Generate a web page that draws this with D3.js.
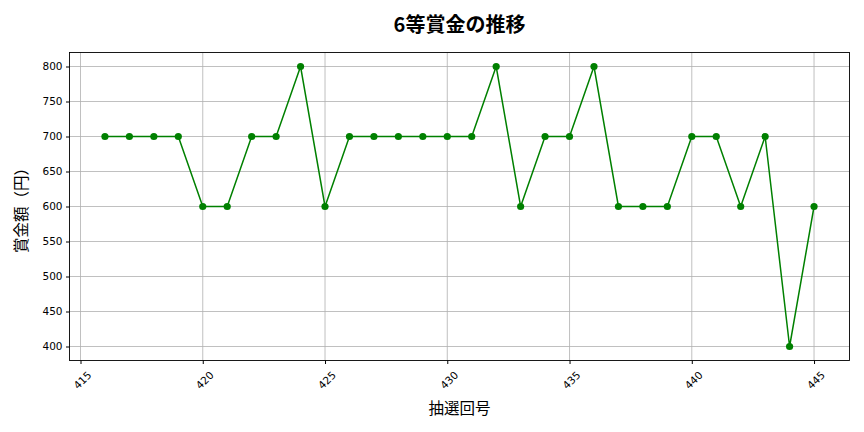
<html>
<head>
<meta charset="utf-8">
<script src="https://d3js.org/d3.v7.min.js"></script>
<style>
body { margin: 0; background: #fff; }
svg { background: #fff; }
.grid line { stroke: #b0b0b0; stroke-width: 0.8; }
.axis text { font-family: "DejaVu Sans", sans-serif; font-size: 10.5px; fill: #000; }
.axis path, .axis line { stroke: #000; }
</style>
</head>
<body>
<script>
var draws = [416, 417, 418, 419, 420, 421, 422, 423, 424, 425, 426, 427, 428, 429, 430,
             431, 432, 433, 434, 435, 436, 437, 438, 439, 440, 441, 442, 443, 444, 445];
var prizes = [700, 700, 700, 700, 600, 600, 700, 700, 800, 600, 700, 700, 700, 700, 700,
              700, 800, 600, 700, 700, 800, 600, 600, 600, 700, 700, 600, 700, 400, 600];
var xTicks = [415, 420, 425, 430, 435, 440, 445];
var yTicks = [400, 450, 500, 550, 600, 650, 700, 750, 800];

var width = 864, height = 432;
var pLeft = 69.5, pRight = 849.5, pTop = 52.5, pBottom = 360.5;

var svg = d3.select('body').append('svg')
  .attr('width', width)
  .attr('height', height);

var xPad = (d3.max(draws) - d3.min(draws)) * 0.05;
var x = d3.scaleLinear()
  .domain([d3.min(draws) - xPad, d3.max(draws) + xPad])
  .range([pLeft, pRight]);
var yPad = (d3.max(prizes) - d3.min(prizes)) * 0.05;
var y = d3.scaleLinear()
  .domain([d3.min(prizes) - yPad, d3.max(prizes) + yPad])
  .range([pBottom, pTop]);

// grid
var grid = svg.append('g').attr('class', 'grid');
grid.selectAll('.vx').data(xTicks).enter().append('line')
  .attr('x1', function(d){ return x(d); }).attr('x2', function(d){ return x(d); })
  .attr('y1', pTop).attr('y2', pBottom);
grid.selectAll('.hy').data(yTicks).enter().append('line')
  .attr('y1', function(d){ return y(d); }).attr('y2', function(d){ return y(d); })
  .attr('x1', pLeft).attr('x2', pRight);

// axes
var xAxis = svg.append('g').attr('class', 'axis')
  .attr('transform', 'translate(0,' + pBottom + ')')
  .call(d3.axisBottom(x).tickValues(xTicks).tickSize(3.5).tickPadding(3).tickFormat(d3.format('d')));
xAxis.select('.domain').remove();
xAxis.selectAll('text')
  .attr('text-anchor', 'end')
  .attr('dy', '0.35em')
  .attr('transform', 'translate(4,8) rotate(-45)');

var yAxis = svg.append('g').attr('class', 'axis')
  .attr('transform', 'translate(' + pLeft + ',0)')
  .call(d3.axisLeft(y).tickValues(yTicks).tickSize(3.5).tickPadding(3.5));
yAxis.select('.domain').remove();

// frame
svg.append('rect')
  .attr('x', pLeft).attr('y', pTop)
  .attr('width', pRight - pLeft).attr('height', pBottom - pTop)
  .attr('fill', 'none').attr('stroke', '#000').attr('stroke-width', 0.9);

// line + markers
var pts = draws.map(function(d, i){ return [d, prizes[i]]; });
svg.append('path')
  .datum(pts)
  .attr('fill', 'none')
  .attr('stroke', 'green')
  .attr('stroke-width', 1.5)
  .attr('d', d3.line().x(function(d){ return x(d[0]); }).y(function(d){ return y(d[1]); }));
svg.selectAll('circle.pt').data(pts).enter().append('circle')
  .attr('class', 'pt')
  .attr('cx', function(d){ return x(d[0]); })
  .attr('cy', function(d){ return y(d[1]); })
  .attr('r', 3.6)
  .attr('fill', 'green');

// titles
svg.append('text')
  .attr('x', (pLeft + pRight) / 2).attr('y', 32)
  .attr('text-anchor', 'middle')
  .style('font-family', '"Noto Sans CJK JP", sans-serif')
  .style('font-size', '20px').style('font-weight', 'bold')
  .text('6等賞金の推移');
svg.append('text')
  .attr('x', (pLeft + pRight) / 2).attr('y', 414)
  .attr('text-anchor', 'middle')
  .style('font-family', '"Noto Sans CJK JP", sans-serif')
  .style('font-size', '15.5px')
  .text('抽選回号');
svg.append('text')
  .attr('transform', 'translate(27,' + ((pTop + pBottom) / 2) + ') rotate(-90)')
  .attr('text-anchor', 'middle')
  .style('font-family', '"Noto Sans CJK JP", sans-serif')
  .style('font-size', '15.5px')
  .text('賞金額（円）');
</script>
</body>
</html>
